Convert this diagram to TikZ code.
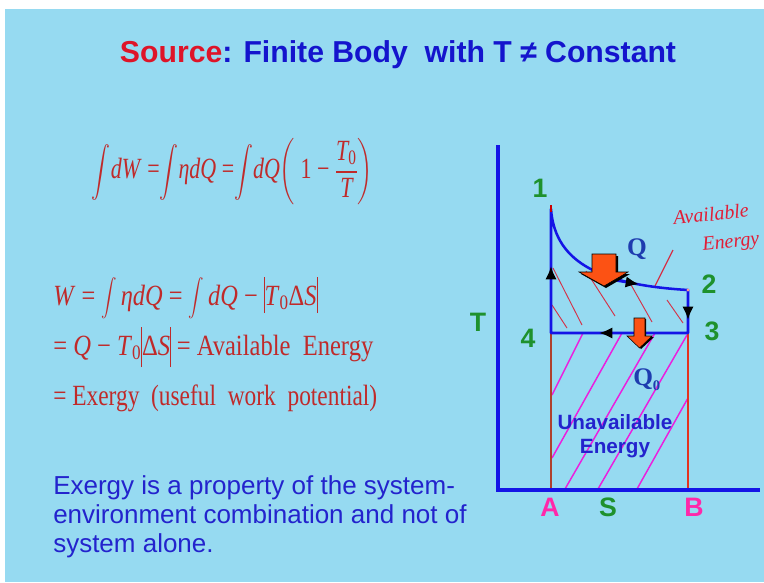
\documentclass[tikz,border=0pt]{standalone}
\usepackage{amsmath}
\usepackage{fontspec}
\setmainfont{Liberation Serif}
\setsansfont{Liberation Sans}
\usepackage{graphicx}
\usetikzlibrary{arrows.meta}
\definecolor{bg}{RGB}{150,218,241}
\definecolor{ttlred}{RGB}{222,20,40}
\definecolor{ttlblue}{RGB}{20,20,205}
\definecolor{eqred}{RGB}{192,42,42}
\definecolor{axblue}{RGB}{20,20,230}
\definecolor{lblgreen}{RGB}{30,145,45}
\definecolor{lblmag}{RGB}{255,40,170}
\definecolor{hatchred}{RGB}{212,50,72}
\definecolor{hatchmag}{RGB}{236,30,222}
\definecolor{qblue}{RGB}{30,60,175}
\definecolor{orng}{RGB}{252,82,20}
\definecolor{txtblue}{RGB}{35,35,205}
\definecolor{linA}{RGB}{175,65,45}
\definecolor{linB}{RGB}{228,50,30}
\definecolor{handred}{RGB}{225,30,55}
\newcommand\absbarA{\rule[-6pt]{0.6pt}{27pt}}
\newcommand\absbarB{\rule[-9pt]{0.6pt}{30pt}}
\newcommand\intA{\ensuremath{\vcenter{\hbox{\resizebox*{!}{42pt}{$\displaystyle\int$}}}}}
\newcommand\intB{\ensuremath{\vcenter{\hbox{\resizebox*{!}{31pt}{$\displaystyle\int$}}}}}
\tikzset{
  eqtext/.style={inner sep=0pt, text=eqred, font=\fontsize{22}{26}\selectfont},
  btext/.style={inner sep=0pt, anchor=base west, text=txtblue, font=\sffamily\fontsize{19.5}{23}\selectfont},
  numlbl/.style={inner sep=0pt, text=lblgreen, font=\sffamily\bfseries\fontsize{20}{24}\selectfont},
  ablbl/.style={inner sep=0pt, text=lblmag, font=\sffamily\bfseries\fontsize{20}{24}\selectfont},
  qlbl/.style={inner sep=0pt, text=qblue, font=\bfseries\fontsize{19}{22}\selectfont},
  axis/.style={axblue, line width=2.3pt},
  cyc/.style={axblue, line width=1.9pt},
  hatchA/.style={hatchred, line width=0.7pt},
  hatchB/.style={hatchmag, line width=1.1pt},
  midarrow/.style={axblue, line width=1.9pt, -{Latex[color=black,length=10pt,width=8.5pt]}},
  bigarrow/.style={fill=orng, draw=black, line width=0.4pt},
  handtext/.style={inner sep=0pt, text=handred, font=\itshape\fontsize{15}{18}\selectfont}
}
\begin{document}
\begin{tikzpicture}[x=0.75pt,y=-0.75pt]
\useasboundingbox (0,0) rectangle (764,582);
\fill[white] (0,0) rectangle (764,582);
\fill[bg] (5,9) rectangle (764,582);

% title
\node[inner sep=0pt] (title) at (398,55) {\resizebox{417pt}{\height}{\sffamily\bfseries\fontsize{22.7}{27}\selectfont\textcolor{ttlred}{Source}\textcolor{ttlblue}{: Finite Body\ \ with T ≠ Constant}}};

% equations
\node[eqtext] (eq1) at (232.5,172) {\resizebox{210.75pt}{\height}{\intA\textit{dW} =\intA\textit{ηdQ} =\intA\textit{dQ}$\displaystyle\left(\mbox{ 1 − }\frac{\textit{T}\textsubscript{0}}{\textit{T}}\right)$}};
\node[eqtext, anchor=base west] (eq2) at (53,305) {\resizebox{198pt}{\height}{\textit{W} = \intB\,\textit{ηdQ} = \intB\,\textit{dQ} − \absbarA\textit{T}\textsubscript{0}Δ\textit{S}\absbarA}};
\node[eqtext, anchor=base west] (eq3) at (53,355) {\resizebox{240pt}{\height}{= \textit{Q} − \textit{T}\textsubscript{0}\absbarB Δ\textit{S}\absbarB\ = Available\ \ Energy}};
\node[eqtext, anchor=base west] (eq4) at (53,405) {\resizebox{243pt}{\height}{= Exergy\ \ (useful\ \ work\ \ potential)}};

% bottom text
\node[btext] (b1) at (53,494) {Exergy is a property\ of the system-};
\node[btext] (b2) at (53,523) {environment\ combination\ and not of};
\node[btext] (b3) at (53,552) {system alone.};

% points
\coordinate (p1) at (551,209);
\coordinate (p2) at (688,290);
\coordinate (p3) at (688,333);
\coordinate (p4) at (551,333);
\coordinate (pA) at (551,490);
\coordinate (pB) at (688,490);
\coordinate (org) at (498,490);
\coordinate (ttop) at (498,145);
\coordinate (send) at (760,490);

% upper hatch
\draw[hatchA] (553,268) -- (582,325);
\draw[hatchA] (552,305) -- (567,328);
\draw[hatchA] (586,271) -- (615,316);
\draw[hatchA] (630,283) -- (652,322);
\draw[hatchA] (667,300) -- (683,323);
% leader
\draw[hatchA, line width=0.9pt] (655,286) -- (673,250);

% lower hatch
\draw[hatchB] (552,395) -- (583,333);
\draw[hatchB] (552,458) -- (622,333);
\draw[hatchB] (565,489) -- (655,333);
\draw[hatchB] (598,489) -- (687,335);
\draw[hatchB] (637,489) -- (688,398);

% verticals
\draw[linA, line width=1.1pt] (p4) -- (pA);
\draw[linB, line width=1.4pt] (p3) -- (pB);

% axes
\draw[axis] (ttop) -- (org) -- (send);

% cycle
\draw[cyc, line join=round] (p4) -- (p1) .. controls (555,265) and (605,285) .. (p2) -- (p3) -- cycle;
\draw[red!80!black, line width=1.9pt] (551,205) -- (551,212);
\fill[pink!80!red] (p2) circle (1.6);

% direction marks
\draw[midarrow] (551,288) -- (551,266);
\draw[midarrow] (616,280.4) -- (639,284.2);
\draw[midarrow] (688,296) -- (688,320);
\draw[midarrow] (622,333) -- (599,333);

% orange arrows
\fill[black] (594,256) -- (618,256) -- (618,274) -- (630,274) -- (606,288) -- (581,274) -- (594,274) -- cycle;
\draw[bigarrow] (592,254) -- (616,254) -- (616,272) -- (628,272) -- (604,286) -- (579,272) -- (592,272) -- cycle;
\fill[black] (635,319) -- (646,319) -- (646,337) -- (654,337) -- (641,349) -- (629,337) -- (635,337) -- cycle;
\draw[bigarrow] (634,318) -- (645,318) -- (645,336) -- (652,336) -- (639.5,348) -- (627,336) -- (634,336) -- cycle;

% labels
\node[numlbl] (l1) at (540,188) {1};
\node[numlbl] (l2) at (709,284) {2};
\node[numlbl] (l3) at (712,331) {3};
\node[numlbl] (l4) at (528,338) {4};
\node[numlbl] (lT) at (478,322) {T};
\node[ablbl] (lA) at (550,507) {A};
\node[numlbl] (lS) at (608,507) {S};
\node[ablbl] (lB) at (694,507) {B};
\node[qlbl] (lQ) at (637,249) {Q};
\node[qlbl, anchor=west] (lQ0) at (633,380) {Q\raisebox{-4pt}{\fontsize{11}{12}\selectfont 0}};
\node[inner sep=0pt, text=txtblue, font=\sffamily\bfseries\fontsize{15.5}{19}\selectfont, align=center] (ue) at (615,436) {Unavailable\\[-1pt]Energy};

% handwritten note
\node[handtext, rotate=6] (av) at (711,214) {Available};
\node[handtext, rotate=6] (en) at (731,243) {Energy};
\end{tikzpicture}
\end{document}
